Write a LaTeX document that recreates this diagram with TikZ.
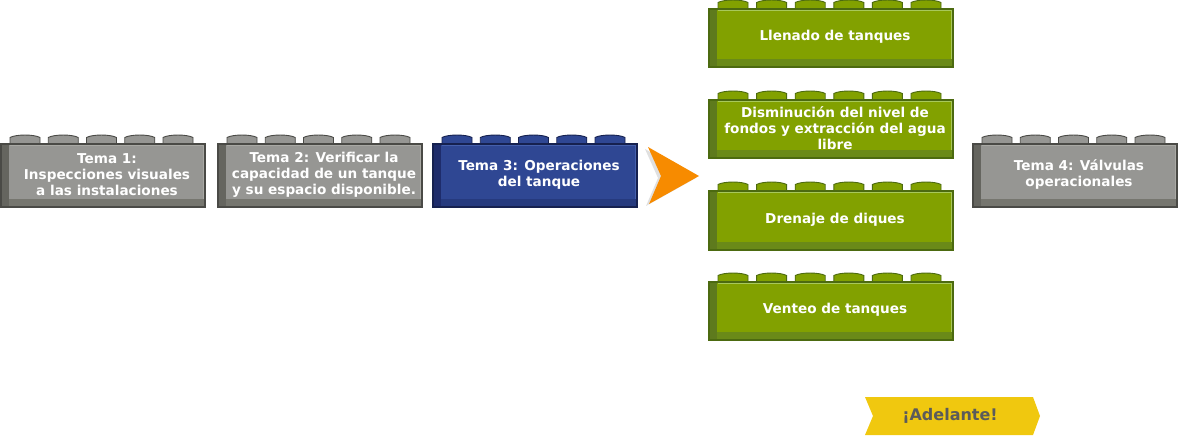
\documentclass[tikz,border=0pt]{standalone}
\usepackage{fontspec}
\setmainfont{DejaVu Sans}
\usepackage{tikz}

\definecolor{greyface}{HTML}{969693}
\definecolor{greyleft}{HTML}{65655F}
\definecolor{greybottom}{HTML}{76766F}
\definecolor{greyline}{HTML}{4A4A46}
\definecolor{greylight}{HTML}{A9A9A4}
\definecolor{blueface}{HTML}{2F4793}
\definecolor{blueleft}{HTML}{1E2C6B}
\definecolor{bluebottom}{HTML}{263A7E}
\definecolor{blueline}{HTML}{16214F}
\definecolor{bluelight}{HTML}{4560AC}
\definecolor{greenface}{HTML}{82A100}
\definecolor{greenleft}{HTML}{5E7A1D}
\definecolor{greenbottom}{HTML}{6A8A18}
\definecolor{greenline}{HTML}{4C6A10}
\definecolor{greenlight}{HTML}{A8C85A}
\definecolor{arroworange}{HTML}{F78B00}
\definecolor{goyellow}{HTML}{F0C80F}
\definecolor{gotext}{HTML}{5B5B5B}

% name, left x, top y, width, height, studs, colour scheme, text
\newcommand{\legobrick}[8]{%
  \pgfmathsetmacro\studstep{(#4-51)/(#6-1)}
  \foreach \s in {1,...,#6} {
    \pgfmathsetmacro\sx{#2+9+(\s-1)*\studstep}
    \draw[draw=#7line, fill=#7face, line width=0.9pt]
      (\sx,#3+2) -- (\sx,#3-6.5)
      .. controls (\sx+6,#3-9.8) and (\sx+24,#3-9.8) .. (\sx+30,#3-6.5)
      -- (\sx+30,#3+2);
  }
  \fill[#7face] (#2,#3) rectangle ++(#4,#5);
  \fill[#7left] (#2,#3) rectangle ++(8,#5);
  \fill[#7bottom] (#2+8,#3+#5-8) rectangle (#2+#4,#3+#5);
  \draw[#7light, line width=1.2pt] (#2+9,#3+1.5) -- (#2+#4-1.5,#3+1.5) -- (#2+#4-1.5,#3+#5-8);
  \draw[#7line, line width=1.2pt] (#2,#3) rectangle ++(#4,#5);
  \node[bricktext] (#1) at (#2+4+#4/2,#3+#5/2-1) {#8};
}

\begin{document}
\begin{tikzpicture}[
x=1pt, y=-1pt,
bricktext/.style={
  text=white,
  font=\bfseries\fontsize{13.6}{16}\selectfont,
  align=center,
  inner sep=0pt
  }
]
\useasboundingbox (0,0) rectangle (1178,436);
% topics
\legobrick{tema1}{1}{144}{204}{63}{5}{grey}{Tema 1:\\Inspecciones visuales\\a las instalaciones}
\legobrick{tema2}{218}{144}{204}{63}{5}{grey}{Tema 2: Verificar la\\capacidad de un tanque\\y su espacio disponible.}
\legobrick{tema3}{433}{144}{204}{63}{5}{blue}{Tema 3: Operaciones\\del tanque}
\legobrick{tema4}{973}{144}{204}{63}{5}{grey}{Tema 4: Válvulas\\operacionales}
% sub topics
\legobrick{llenado}{709}{9}{244}{58}{6}{green}{Llenado de tanques}
\legobrick{disminucion}{709}{100}{244}{58}{6}{green}{Disminución del nivel de\\fondos y extracción del agua\\libre}
\legobrick{drenaje}{709}{191}{244}{59}{6}{green}{Drenaje de diques}
\legobrick{venteo}{709}{282}{244}{58}{6}{green}{Venteo de tanques}
% arrow
\fill[black, opacity=0.12] (645,149) -- (696,178) -- (646,206) -- (658,178) -- cycle;
\fill[arroworange] (648,147) -- (699,176) -- (649,204) -- (661,176) -- cycle;
% next button
\fill[goyellow] (865,397) -- (1033,397) -- (1040,416) -- (1033,435) -- (865,435) -- (873,416) -- cycle;
\node[text=gotext, font=\bfseries\fontsize{16}{18}\selectfont, inner sep=0pt] (adelante) at (950,416) {¡Adelante!};
\end{tikzpicture}
\end{document}
